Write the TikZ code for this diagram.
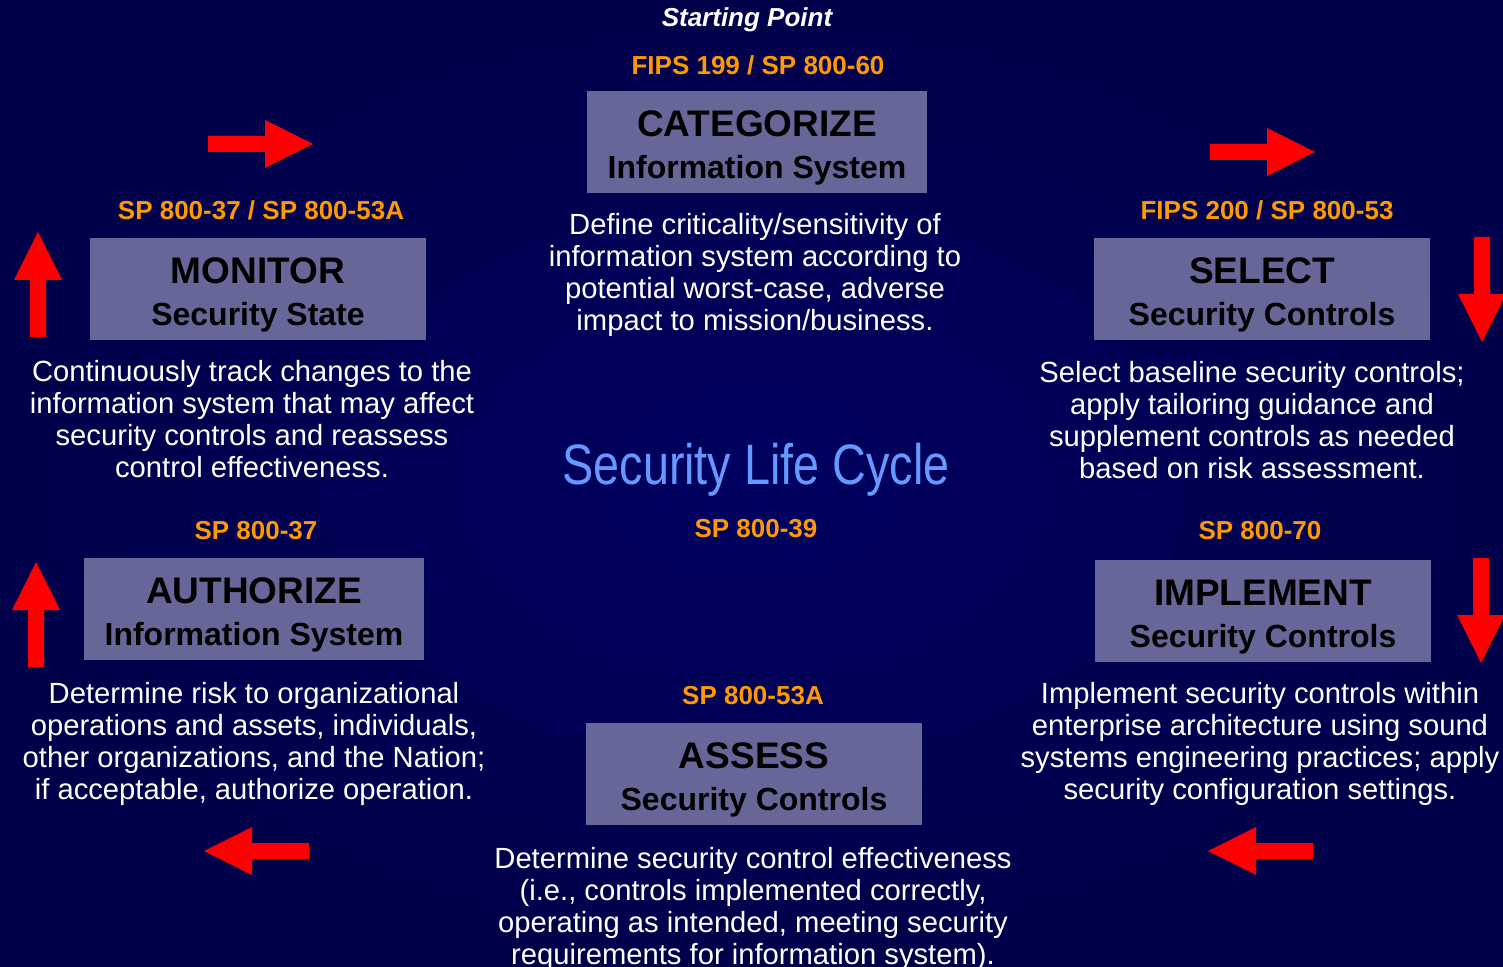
\documentclass[tikz,border=0pt]{standalone}
\usepackage{fontspec}
\setmainfont{Liberation Sans}
\newfontfamily\narrowfont[FakeStretch=0.82]{Liberation Sans}
\usetikzlibrary{positioning}

\definecolor{slcbg}{RGB}{0,0,96}
\definecolor{slcedge}{RGB}{0,0,74}
\definecolor{boxfill}{RGB}{102,102,153}
\definecolor{refcol}{RGB}{255,153,0}
\definecolor{titleblue}{RGB}{102,153,255}

\tikzset{
  stepbox/.style={fill=boxfill, minimum width=168pt, minimum height=51pt,
    align=center, inner sep=0pt, font=\fontsize{16}{21}\selectfont\bfseries},
  reflabel/.style={text=refcol, font=\fontsize{13}{15}\selectfont\bfseries},
  desc/.style={text=white, align=center, font=\fontsize{14.6}{16}\selectfont},
  flow/.pic={\fill[red] (0,-8) -- (57,-8) -- (57,-24) -- (105,0) -- (57,24) -- (57,8) -- (0,8) -- cycle;}
}
\newcommand{\boxtitle}[2]{\rule{0pt}{19pt}{\fontsize{18.5}{21}\selectfont #1}\\#2}

\begin{document}
\begin{tikzpicture}[x=0.5pt, y=-0.5pt]
    \useasboundingbox (0,0) rectangle (1503,967);
    \shade[inner color=slcbg, outer color=slcedge] (0,0) rectangle (1503,967);

    % the six steps
    \node[stepbox, minimum width=170pt] (categorize) at (757,142) {\boxtitle{CATEGORIZE}{Information System}};
    \node[stepbox] (select) at (1262,289) {\boxtitle{SELECT}{Security Controls}};
    \node[stepbox] (implement) at (1263,611) {\boxtitle{IMPLEMENT}{Security Controls}};
    \node[stepbox] (assess) at (754,774) {\boxtitle{ASSESS}{Security Controls}};
    \node[stepbox, minimum width=170pt] (authorize) at (254,609) {\boxtitle{AUTHORIZE}{Information System}};
    \node[stepbox] (monitor) at (258,289) {\boxtitle{MONITOR}{Security State}};

    % publications
    \node[text=white, font=\fontsize{13}{15}\selectfont\bfseries\itshape] (start) at (747,20) {Starting Point};
    \node[reflabel] (catref) at (758,65) {FIPS 199 / SP 800-60};
    \node[reflabel] (selref) at (1267,210) {FIPS 200 / SP 800-53};
    \node[reflabel] (implref) at (1260,531) {SP 800-70};
    \node[reflabel] (assref) at (753,696) {SP 800-53A};
    \node[reflabel] (authref) at (256,531) {SP 800-37};
    \node[reflabel] (monref) at (261,210) {SP 800-37 / SP 800-53A};

    \node[text=titleblue, font=\narrowfont\fontsize{28.5}{30}\selectfont] (cycle) at (756,470) {Security Life Cycle};
    \node[reflabel] (cycleref) at (756,529) {SP 800-39};

    % descriptions
    \node[desc] (catdesc) at (755,275) {Define criticality/sensitivity of\\information system according to\\potential worst-case, adverse\\impact to mission/business.};
    \node[desc] (seldesc) at (1252,420) {Select baseline security controls;\\apply tailoring guidance and\\supplement controls as needed\\based on risk assessment.};
    \node[desc] (impldesc) at (1260,744) {Implement security controls within\\enterprise architecture using sound\\systems engineering practices; apply\\security configuration settings.};
    \node[desc] (assdesc) at (753,909) {Determine security control effectiveness\\(i.e., controls implemented correctly,\\operating as intended, meeting security\\requirements for information system).};
    \node[desc] (authdesc) at (254,744) {Determine risk to organizational\\operations and assets, individuals,\\other organizations, and the Nation;\\if acceptable, authorize operation.};
    \node[desc] (mondesc) at (252,419) {Continuously track changes to the\\information system that may affect\\security controls and reassess\\control effectiveness.};

    % red arrows round the cycle
    \path (208,144) pic {flow};
    \path (1210,152) pic {flow};
    \path (1482,237) pic[rotate=-90] {flow};
    \path (1481,558) pic[rotate=-90] {flow};
    \path (1313,851) pic[rotate=180] {flow};
    \path (309,851) pic[rotate=180] {flow};
    \path (36,667) pic[rotate=90] {flow};
    \path (38,337) pic[rotate=90] {flow};
\end{tikzpicture}
\end{document}
